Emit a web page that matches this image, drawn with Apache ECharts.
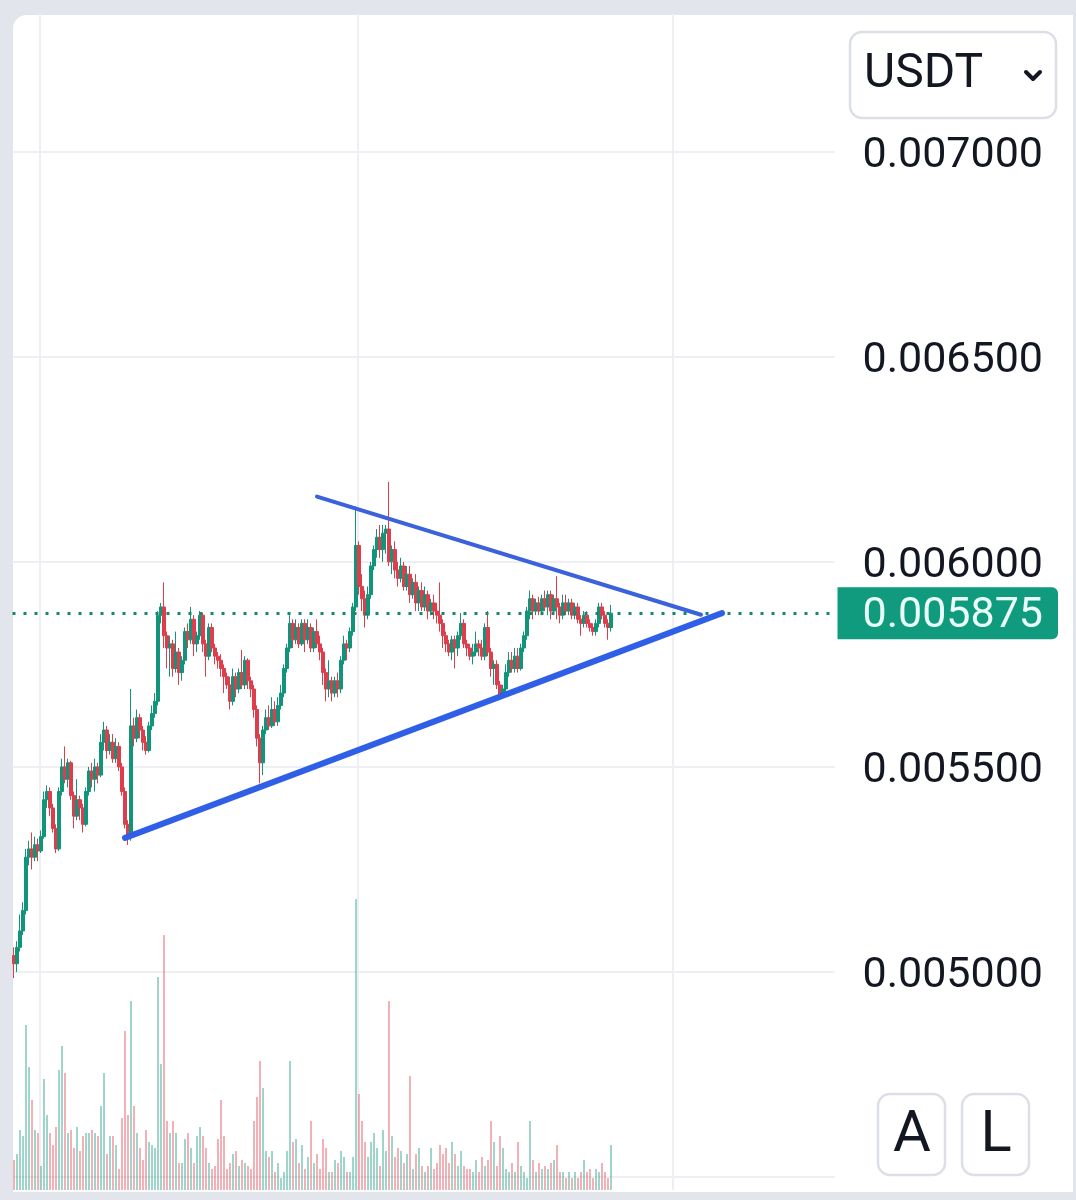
<!DOCTYPE html>
<html><head><meta charset="utf-8">
<script src="https://cdn.jsdelivr.net/npm/echarts@6/dist/echarts.min.js"></script>
<style>
html,body{margin:0;padding:0;background:#e2e5eb;width:1076px;height:1200px;overflow:hidden}
#card{position:absolute;left:13px;top:15px;width:1060px;height:1177px;background:#fff;border-top-left-radius:14px}
#chart{position:absolute;left:0;top:0;width:1076px;height:1200px}
</style></head><body>
<div id="card"></div><div id="chart"></div>
<script>
// prices in millionths of USDT: [open, close, low, high]
const ohlc = [
[5040,5020,4985,5060],[5020,5060,5000,5075],[5060,5100,5050,5140],[5100,5150,5090,5170],[5150,5280,5140,5300],
[5280,5300,5260,5320],[5300,5280,5250,5340],[5280,5310,5270,5330],[5310,5295,5270,5325],[5295,5330,5290,5345],
[5330,5420,5325,5440],[5420,5440,5400,5455],[5440,5400,5380,5450],[5400,5350,5340,5410],[5350,5300,5290,5360],
[5300,5440,5295,5450],[5440,5500,5430,5520],[5500,5470,5460,5550],[5470,5510,5450,5520],[5510,5430,5420,5515],
[5430,5380,5350,5440],[5380,5420,5370,5470],[5420,5400,5370,5430],[5400,5360,5340,5410],[5360,5440,5355,5450],
[5440,5490,5430,5500],[5490,5470,5450,5510],[5470,5500,5440,5520],[5500,5480,5460,5510],[5480,5560,5475,5580],
[5560,5590,5540,5610],[5590,5540,5520,5600],[5540,5560,5530,5580],[5560,5520,5510,5580],[5520,5550,5510,5570],
[5550,5500,5490,5560],[5500,5440,5430,5510],[5440,5360,5350,5450],[5360,5330,5310,5370],[5330,5600,5320,5690],
[5600,5570,5550,5620],[5570,5620,5560,5640],[5620,5590,5570,5630],[5590,5560,5540,5600],[5560,5540,5530,5575],
[5540,5600,5535,5610],[5600,5630,5590,5650],[5630,5660,5620,5680],[5660,5870,5650,5880],[5870,5890,5850,5900],
[5890,5820,5790,5950],[5820,5790,5740,5830],[5790,5800,5720,5820],[5800,5740,5720,5810],[5740,5780,5730,5830],
[5780,5730,5700,5790],[5730,5760,5710,5770],[5760,5830,5750,5840],[5830,5810,5790,5850],[5810,5860,5800,5890],
[5860,5800,5770,5870],[5800,5820,5780,5830],[5820,5870,5810,5880],[5870,5800,5780,5875],[5800,5770,5720,5810],
[5770,5840,5760,5850],[5840,5790,5780,5850],[5790,5770,5750,5800],[5770,5760,5740,5780],[5760,5740,5720,5775],
[5740,5720,5680,5750],[5720,5700,5690,5730],[5700,5660,5640,5720],[5660,5720,5650,5740],[5720,5690,5670,5730],
[5690,5730,5680,5740],[5730,5700,5690,5785],[5700,5760,5690,5770],[5760,5710,5690,5765],[5710,5690,5670,5720],
[5690,5640,5620,5700],[5640,5570,5550,5650],[5570,5510,5460,5580],[5510,5590,5480,5600],[5590,5620,5580,5640],
[5620,5600,5590,5650],[5600,5640,5595,5670],[5640,5610,5600,5660],[5610,5650,5600,5670],[5650,5680,5640,5700],
[5680,5740,5670,5750],[5740,5790,5730,5800],[5790,5850,5780,5870],[5850,5810,5790,5860],[5810,5840,5800,5860],
[5840,5800,5790,5850],[5800,5850,5795,5860],[5850,5810,5780,5860],[5810,5840,5800,5860],[5840,5790,5780,5850],
[5790,5830,5780,5840],[5830,5800,5790,5860],[5800,5780,5760,5820],[5780,5730,5700,5790],[5730,5690,5660,5740],
[5690,5710,5670,5760],[5710,5680,5660,5720],[5680,5710,5670,5720],[5710,5690,5670,5730],[5690,5760,5680,5770],
[5760,5800,5750,5820],[5800,5790,5760,5810],[5790,5830,5780,5840],[5830,5890,5820,5900],[5890,6040,5880,6135],
[6040,5940,5920,6050],[5940,5910,5880,5970],[5910,5870,5840,5930],[5870,5920,5860,5940],[5920,5990,5910,6000],
[5990,6030,5980,6040],[6030,6060,6010,6080],[6060,6030,6010,6090],[6030,6070,6000,6090],[6070,6080,6020,6090],
[6080,6000,5990,6195],[6000,6030,5970,6040],[6030,5980,5960,6050],[5980,5960,5940,6000],[5960,5990,5950,6010],
[5990,5940,5930,6000],[5940,5970,5930,5990],[5970,5920,5900,5990],[5920,5950,5910,5960],[5950,5900,5880,5970],
[5900,5930,5880,5940],[5930,5890,5880,5950],[5890,5920,5880,5940],[5920,5880,5860,5930],[5880,5900,5870,5910],
[5900,5880,5860,5920],[5880,5870,5850,5900],[5870,5850,5830,5950],[5850,5820,5790,5860],[5820,5800,5780,5830],
[5800,5780,5770,5810],[5780,5810,5760,5820],[5810,5790,5740,5820],[5790,5820,5770,5830],[5820,5850,5810,5875],
[5850,5800,5790,5860],[5800,5790,5770,5810],[5790,5770,5760,5800],[5770,5780,5750,5800],[5780,5800,5770,5830],
[5800,5790,5770,5810],[5790,5770,5760,5810],[5770,5840,5760,5850],[5840,5780,5770,5880],[5780,5740,5720,5790],
[5740,5750,5700,5760],[5750,5700,5690,5760],[5700,5670,5666,5710],[5670,5690,5670,5700],[5690,5730,5680,5750],
[5730,5760,5720,5780],[5760,5740,5730,5780],[5740,5770,5730,5790],[5770,5740,5730,5790],[5740,5790,5735,5800],
[5790,5820,5780,5830],[5820,5880,5810,5890],[5880,5910,5860,5930],[5910,5880,5860,5920],[5880,5900,5870,5910],
[5900,5880,5870,5915],[5880,5910,5870,5920],[5910,5890,5880,5930],[5890,5920,5870,5930],[5920,5880,5860,5930],
[5880,5910,5870,5920],[5910,5890,5860,5965],[5890,5870,5850,5900],[5870,5900,5860,5920],[5900,5880,5870,5920],
[5880,5900,5870,5910],[5900,5870,5860,5910],[5870,5890,5860,5900],[5890,5860,5850,5900],[5860,5850,5820,5870],
[5850,5870,5840,5880],[5870,5850,5840,5880],[5850,5840,5830,5860],[5840,5830,5820,5850],[5830,5850,5820,5860],
[5850,5890,5840,5900],[5890,5870,5860,5900],[5870,5850,5840,5880],[5850,5840,5810,5860],[5840,5875,5830,5895]
];
const volumes = [
10,12,20,18,55,41,30,20,19,8, 37,25,19,15,21,40,48,39,19,20, 14,21,13,18,19,19,20,19,18,28,
39,12,18,18,15,7,24,53,25,63, 28,19,14,10,20,16,15,14,71,42, 85,23,19,23,19,9,9,17,19,14,
9,18,21,18,14,9,7,8,17,30, 18,7,9,12,13,8,10,9,8,7, 23,31,43,34,13,11,13,6,9,4,
6,13,43,16,17,9,15,7,11,23, 9,12,7,17,14,6,6,10,9,13, 11,6,6,11,97,32,23,16,11,16,
19,14,8,20,13,63,18,11,14,13, 9,12,38,7,12,14,8,6,8,14, 7,9,15,12,14,9,16,12,8,13,
8,7,7,6,10,6,11,8,10,23, 16,8,18,14,7,6,9,6,16,8, 6,4,23,10,6,9,7,8,7,9,
10,15,6,6,4,6,4,6,4,6, 10,6,7,4,7,6,9,6,4,15
];
const yTicks = [5000, 5500, 6000, 6500, 7000];
const lastPrice = 5875;
const lowerTrend = [[37, 5327], [236, 5875]];
const upperTrend = [[101, 6159], [229, 5871]];
const vGridIdx = [9, 115, 220];
const slotCount = 274;
const categories = Array.from({length: slotCount}, (_, i) => String(i));

const UP = '#10957b', DOWN = '#de3d4c';
const fmt = v => (v / 1e6).toFixed(6);
const gridColor = '#eeeff2';

const candleData = ohlc.map(r => [r[0], r[1], r[2], r[3]]);
const volData = volumes.map((v, i) => ({
  value: v,
  itemStyle: {color: ohlc[i][1] >= ohlc[i][0] ? 'rgba(16,149,123,0.5)' : 'rgba(222,61,76,0.5)'}
}));

const xSplit = {show: true, showMinLine: true, showMaxLine: false,
  interval: (idx) => vGridIdx.includes(idx), lineStyle: {color: gridColor, width: 2}};

const chart = echarts.init(document.getElementById('chart'), null, {renderer: 'canvas'});
chart.setOption({
  animation: false,
  backgroundColor: 'transparent',
  grid: [
    {left: 12.5, right: 241.5, top: 14, bottom: 23},
    {left: 12.5, right: 241.5, top: 890, bottom: 10}
  ],
  xAxis: [
    {type: 'category', gridIndex: 0, data: categories, boundaryGap: true,
     axisLine: {show: false}, axisTick: {show: false}, axisLabel: {show: false}, splitLine: xSplit},
    {type: 'category', gridIndex: 1, data: categories, boundaryGap: true,
     axisLine: {show: false}, axisTick: {show: false}, axisLabel: {show: false}, splitLine: xSplit}
  ],
  yAxis: [
    {type: 'value', gridIndex: 0, position: 'right', min: 4500, max: 7336, interval: 500,
     axisLine: {show: false}, axisTick: {show: false},
     axisLabel: {margin: 28, fontSize: 43, fontFamily: 'Roboto', color: '#131722',
       formatter: v => yTicks.includes(v) ? '{t|' + fmt(v) + '}' : '',
       rich: {t: {fontSize: 43, fontFamily: 'Roboto', color: '#131722', padding: [8, 0, 0, 0]}}},
     splitLine: {show: true, showMaxLine: false, lineStyle: {color: gridColor, width: 2}}},
    {type: 'value', gridIndex: 1, min: 0, max: 100, show: false, splitLine: {show: false}}
  ],
  series: [
    {type: 'bar', xAxisIndex: 1, yAxisIndex: 1, data: volData, barWidth: 1.6, silent: true, z: 1},
    {type: 'candlestick', xAxisIndex: 0, yAxisIndex: 0, data: candleData, barWidth: 3, z: 2,
     itemStyle: {color: UP, color0: DOWN, borderColor: UP, borderColor0: DOWN, borderWidth: 1},
     markLine: {
       silent: true, animation: false, symbol: ['none', 'none'],
       label: {show: false},
       data: [
         {yAxis: lastPrice,
          lineStyle: {color: '#15876f', width: 3, type: [3, 8]},
          label: {show: true, position: 'end', distance: 3, formatter: p => '{t|' + fmt(p.value) + '}',
            backgroundColor: '#119b7e', padding: [3, 15, 3, 25], borderRadius: [0, 6, 6, 0],
            rich: {t: {color: '#e9fff8', fontSize: 43, fontFamily: 'Roboto', lineHeight: 46, padding: [6, 0, 0, 0]}}}},
         [{coord: lowerTrend[0], lineStyle: {color: '#2f5fe6', width: 6, type: 'solid', cap: 'round'}, label: {show: false}},
          {coord: lowerTrend[1], lineStyle: {color: '#2f5fe6', width: 6, type: 'solid', cap: 'round'}, label: {show: false}}],
         [{coord: upperTrend[0], lineStyle: {color: '#3b62dc', width: 4, type: 'solid', cap: 'round'}, label: {show: false}},
          {coord: upperTrend[1], lineStyle: {color: '#3b62dc', width: 4, type: 'solid', cap: 'round'}, label: {show: false}}]
       ]
     }}
  ],
  graphic: [
    {type: 'rect', shape: {x: 850, y: 32, width: 206, height: 86, r: 12},
     style: {fill: '#fff', stroke: '#dcdfe6', lineWidth: 2.5}},
    {type: 'text', x: 864, y: 75, style: {text: 'USDT', font: '48px Roboto', fill: '#131722', verticalAlign: 'middle'}},
    {type: 'polyline', shape: {points: [[1026, 72], [1033, 79], [1040, 72]]},
     style: {stroke: '#131722', lineWidth: 4, fill: null, lineCap: 'round', lineJoin: 'round'}},
    {type: 'rect', shape: {x: 878, y: 1094, width: 67, height: 81, r: 12},
     style: {fill: '#fff', stroke: '#dcdfe6', lineWidth: 2.5}},
    {type: 'rect', shape: {x: 962, y: 1094, width: 67, height: 81, r: 12},
     style: {fill: '#fff', stroke: '#dcdfe6', lineWidth: 2.5}},
    {type: 'text', x: 912, y: 1136, style: {text: 'A', font: '58px Roboto', fill: '#131722', align: 'center', verticalAlign: 'middle'}},
    {type: 'text', x: 996, y: 1136, style: {text: 'L', font: '58px Roboto', fill: '#131722', align: 'center', verticalAlign: 'middle'}}
  ]
});
</script>
</body></html>
